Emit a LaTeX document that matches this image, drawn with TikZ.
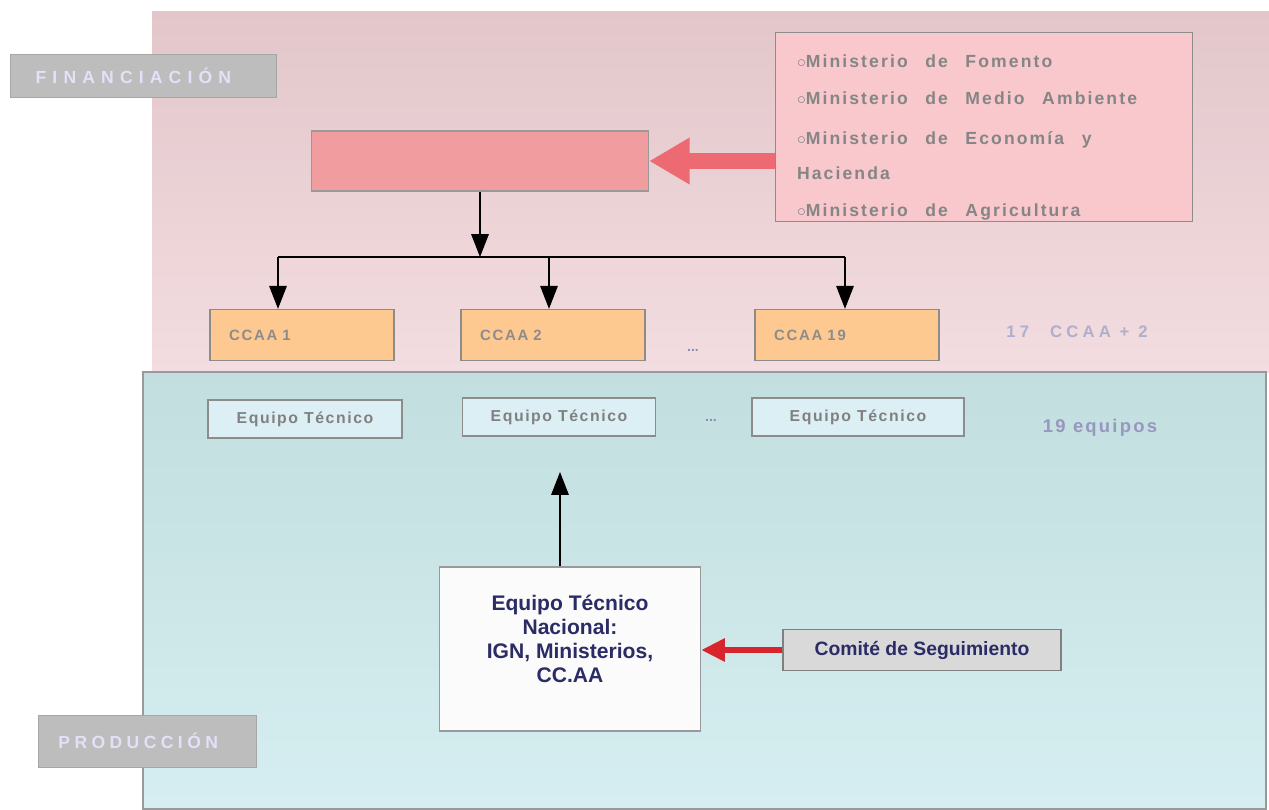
\documentclass[tikz,border=0pt]{standalone}
\usepackage{fontspec}
\setmainfont{Liberation Sans}
\usepackage{tikz}
\usetikzlibrary{arrows.meta}

\definecolor{bandpinktop}{HTML}{E2C6CA}
\definecolor{bandpinkbot}{HTML}{F3DDE0}
\definecolor{bandteal}{HTML}{C2DEDE}
\definecolor{bandtealbot}{HTML}{D6EEF1}
\definecolor{convenio}{HTML}{F19C9E}
\definecolor{minis}{HTML}{F8C8CD}
\definecolor{ccaa}{HTML}{FEC991}
\definecolor{equipo}{HTML}{DCEFF4}
\definecolor{labelgray}{HTML}{BDBDBD}
\definecolor{navy}{HTML}{2B2B66}
\definecolor{arrowred}{HTML}{D8242B}
\definecolor{bigred}{HTML}{EE6A72}
\definecolor{faint}{HTML}{8C8CB8}
\definecolor{lavender}{HTML}{E4E0F8}

\newlength{\pxu}
\setlength{\pxu}{0.02cm}

\tikzset{
  box/.style={draw=black!45, line width=0.8pt, inner sep=0pt},
  ccaabox/.style={box, fill=ccaa, minimum width=184\pxu, minimum height=51\pxu,
    font=\bfseries\fontsize{8.5}{9}\selectfont\addfontfeature{LetterSpace=12}, text=black!45, align=left},
  eqbox/.style={box, fill=equipo, minimum height=38\pxu,
    font=\bfseries\fontsize{9}{9}\selectfont\addfontfeature{LetterSpace=10}, text=black!50},
  secbox/.style={draw=black!35, fill=labelgray, inner sep=0pt, text=lavender},
  link/.style={-{Triangle[length=13pt,width=10pt]}, line width=0.6pt},
}

\begin{document}
\begin{tikzpicture}[x=0.02cm, y=-0.02cm]
\useasboundingbox (0,0) rectangle (1269,809);

% bands
\shade[top color=bandpinktop, bottom color=bandpinkbot] (152,11) rectangle (1269,372);
\shade[top color=bandteal, bottom color=bandtealbot, draw=black!40, line width=0.8pt] (143,372) rectangle (1266,809);

% section labels
\node[secbox, minimum width=266\pxu, minimum height=43\pxu,
      font=\bfseries\fontsize{10}{10}\selectfont\addfontfeature{LetterSpace=35}] (fin) at (143,76) {FINANCIACIÓN\kern11pt};
\node[secbox, minimum width=218\pxu, minimum height=52\pxu,
      font=\bfseries\fontsize{10}{10}\selectfont\addfontfeature{LetterSpace=25}] (prod) at (147,741) {PRODUCCIÓN\kern10pt};

% financing
\node[box, draw=black!40, fill=convenio, minimum width=337\pxu, minimum height=60\pxu] (conv) at (480,161) {};
\node[box, draw=black!45, fill=minis, minimum width=417\pxu, minimum height=189\pxu,
      text width=374\pxu, align=left, text=black!48,
      font=\bfseries\fontsize{10}{19}\selectfont\addfontfeature{LetterSpace=12}] (min) at (984,127)
  {\rule{0pt}{19pt}$\circ$Ministerio\ \ \ de\ \ \ Fomento\\[2pt]
   $\circ$Ministerio\ \ \ de\ \ \ Medio\ \ \ Ambiente\\[4pt]
   $\circ$Ministerio\ \ \ de\ \ \ Economía\ \ \ y\\[1pt]
   Hacienda\\[2pt]
   $\circ$Ministerio\ \ \ de\ \ \ Agricultura};

\node[ccaabox, text width=146\pxu] (c1) at (302,335) {CCAA 1};
\node[ccaabox, text width=146\pxu] (c2) at (553,335) {CCAA 2};
\node[ccaabox, text width=146\pxu] (c19) at (847,335) {CCAA 19};
\node[font=\bfseries\fontsize{8}{8}\selectfont, text=faint] (d1) at (693,350) {...};
\node[font=\bfseries\fontsize{9.5}{9}\selectfont\addfontfeature{LetterSpace=25}, text=faint!70] (n17) at (1077,332) {17\hspace{12pt}CCAA + 2};

\coordinate (split) at (480,257);
\coordinate (s1) at (278,257);
\coordinate (s2) at (549,257);
\coordinate (s19) at (845,257);

% production
\node[eqbox, minimum width=194\pxu] (e1) at (305,419) {Equipo Técnico};
\node[eqbox, minimum width=193\pxu] (e2) at (559,417) {Equipo Técnico};
\node[eqbox, minimum width=212\pxu] (e19) at (858,417) {Equipo Técnico};
\node[font=\bfseries\fontsize{8}{8}\selectfont, text=faint] (d2) at (711,420) {...};
\node[font=\bfseries\fontsize{10.5}{10}\selectfont\addfontfeature{LetterSpace=12}, text=faint!90] (n19) at (1100,428) {19 equipos};

\node[box, draw=black!40, fill=white!97!gray, minimum width=261\pxu, minimum height=164\pxu,
      align=center, font=\bfseries\fontsize{12}{13.6}\selectfont, text=navy] (nac) at (570,649)
  {Equipo Técnico\\ Nacional:\\ IGN, Ministerios,\\ CC.AA\\[-2pt]};
\node[box, draw=black!50, fill=black!15, minimum width=278\pxu, minimum height=41\pxu,
      font=\bfseries\fontsize{11}{11}\selectfont, text=navy] (com) at (922,650) {Comité de Seguimiento};

% connectors
\draw[-{Triangle[length=23pt,width=25pt]}, line width=9pt, bigred] (conv.east -| min.west) -- (conv.east);
\draw[link] (conv.south) -- (split);
\draw[line width=0.6pt] (s1) -- (s19);
\path[link] (s1) edge (c1.north -| s1)
            (s2) edge (c2.north -| s2)
            (s19) edge (c19.north -| s19);
\draw[link] (nac.north -| 560,0) -- (560,472);
\draw[-{Triangle[length=13.5pt,width=12.5pt]}, line width=3.4pt, arrowred] (com.west) -- (com.west -| nac.east);
\end{tikzpicture}
\end{document}
